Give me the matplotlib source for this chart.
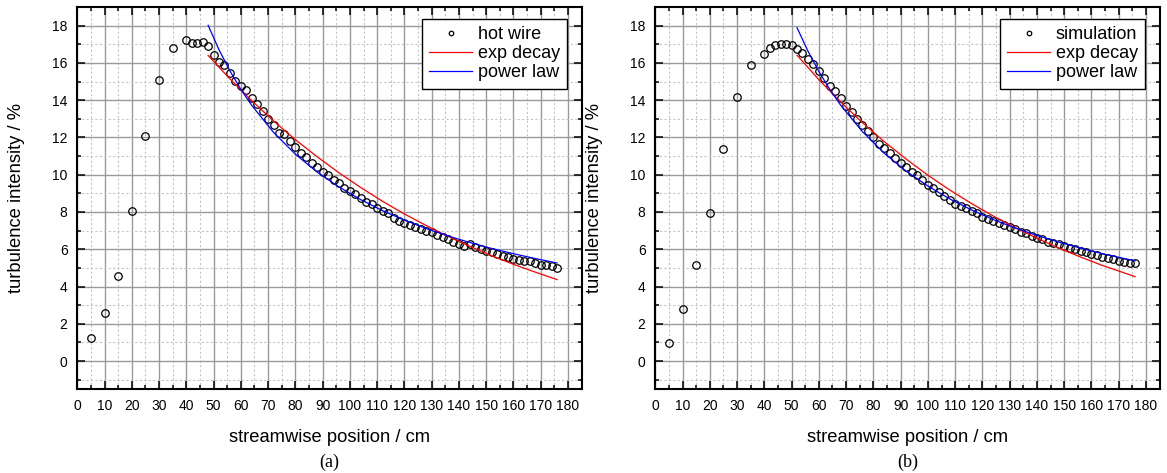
import matplotlib
matplotlib.use("Agg")
import matplotlib.pyplot as plt
from matplotlib.ticker import MultipleLocator

plt.rcParams['font.family'] = ['Liberation Sans', 'DejaVu Sans']

# (a) hot wire measurement
x_hw = [5, 10, 15, 20, 25, 30, 35,
        40, 42, 44, 46, 48, 50, 52, 54, 56, 58, 60, 62, 64, 66, 68, 70,
        72, 74, 76, 78, 80, 82, 84, 86, 88, 90, 92, 94, 96, 98, 100, 102,
        104, 106, 108, 110, 112, 114, 116, 118, 120, 122, 124, 126, 128, 130,
        132, 134, 136, 138, 140, 142, 144, 146, 148, 150, 152, 154, 156, 158,
        160, 162, 164, 166, 168, 170, 172, 174, 176]
y_hw = [1.25, 2.56, 4.55, 8.06, 12.06, 15.1, 16.82,
        17.21, 17.09, 17.09, 17.14, 16.89, 16.41, 16.03, 15.91, 15.46, 15.01,
        14.75, 14.53, 14.14, 13.82, 13.42, 12.98, 12.69, 12.24, 12.21, 11.83,
        11.49, 11.17, 10.95, 10.63, 10.42, 10.17, 10.01, 9.74, 9.56, 9.28,
        9.12, 8.94, 8.75, 8.55, 8.42, 8.24, 8.04, 7.92, 7.65, 7.52, 7.42,
        7.29, 7.2, 7.06, 6.97, 6.93, 6.76, 6.67, 6.54, 6.4, 6.27, 6.17, 6.26,
        6.1, 5.99, 5.92, 5.83, 5.77, 5.65, 5.56, 5.47, 5.42, 5.38, 5.36, 5.24,
        5.18, 5.13, 5.11, 5.0]

x_exp_a = [48, 56, 64, 72, 80, 88, 96, 104, 112, 120, 128, 136, 144, 152, 160, 168, 176]
y_exp_a = [16.4, 15.14, 13.97, 12.88, 11.88, 10.96, 10.1, 9.31, 8.57, 7.89,
           7.27, 6.69, 6.15, 5.65, 5.19, 4.77, 4.37]

x_pow_a = [48, 52, 56, 60, 64, 72, 80, 88, 96, 104, 112, 120, 128, 136, 144, 152, 160, 168, 176]
y_pow_a = [18.02, 16.7, 15.57, 14.58, 13.72, 12.27, 11.1, 10.14, 9.34, 8.66,
           8.07, 7.56, 7.11, 6.71, 6.36, 6.04, 5.76, 5.5, 5.26]

# (b) simulation
x_sim = [5, 10, 15, 20, 25, 30, 35,
         40, 42, 44, 46, 48, 50, 52, 54, 56, 58, 60, 62, 64, 66, 68, 70,
         72, 74, 76, 78, 80, 82, 84, 86, 88, 90, 92, 94, 96, 98, 100, 102,
         104, 106, 108, 110, 112, 114, 116, 118, 120, 122, 124, 126, 128, 130,
         132, 134, 136, 138, 140, 142, 144, 146, 148, 150, 152, 154, 156, 158,
         160, 162, 164, 166, 168, 170, 172, 174, 176]
y_sim = [0.97, 2.79, 5.15, 7.97, 11.4, 14.17, 15.91,
         16.5, 16.8, 16.94, 17.03, 17.03, 16.98, 16.77, 16.55, 16.23, 15.92,
         15.57, 15.21, 14.78, 14.49, 14.12, 13.69, 13.34, 12.98, 12.65, 12.33,
         12.0, 11.64, 11.42, 11.17, 10.87, 10.63, 10.42, 10.15, 9.97, 9.71,
         9.44, 9.26, 9.05, 8.85, 8.63, 8.45, 8.33, 8.24, 8.04, 7.92, 7.74,
         7.61, 7.52, 7.42, 7.29, 7.17, 7.06, 6.93, 6.85, 6.72, 6.63, 6.53, 6.4,
         6.31, 6.26, 6.17, 6.08, 6.01, 5.92, 5.86, 5.77, 5.68, 5.59, 5.51, 5.45,
         5.38, 5.32, 5.27, 5.24]

x_exp_b = [52, 60, 68, 76, 84, 92, 100, 108, 116, 124, 132, 140, 148, 156, 164, 172, 176]
y_exp_b = [16.41, 15.1, 13.9, 12.79, 11.77, 10.84, 9.97, 9.18, 8.45, 7.78,
           7.16, 6.59, 6.06, 5.58, 5.13, 4.73, 4.53]

x_pow_b = [52, 56, 60, 64, 68, 76, 84, 92, 100, 108, 116, 124, 132, 140, 148, 156, 164, 172, 176]
y_pow_b = [17.89, 16.63, 15.54, 14.58, 13.73, 12.31, 11.15, 10.19, 9.39, 8.7,
           8.11, 7.59, 7.14, 6.74, 6.38, 6.06, 5.76, 5.5, 5.38]

fig = plt.figure(figsize=(11.67, 4.73), dpi=100)
ax_a = fig.add_axes([0.0662, 0.1776, 0.4322, 0.8076])
ax_b = fig.add_axes([0.5615, 0.1776, 0.4322, 0.8076])

panels = [
    (ax_a, x_hw, y_hw, 'hot wire', x_exp_a, y_exp_a, x_pow_a, y_pow_a, '(a)'),
    (ax_b, x_sim, y_sim, 'simulation', x_exp_b, y_exp_b, x_pow_b, y_pow_b, '(b)'),
]

for ax, xd, yd, name, xe, ye, xp, yp, cap in panels:
    ax.plot(xd, yd, 'o', ms=5.4, mfc='none', mec='black', mew=0.9, label=name)
    ax.plot(xe, ye, '-', color='red', lw=0.9, label='exp decay')
    ax.plot(xp, yp, '-', color='blue', lw=0.9, label='power law')

    ax.set_xlim(0, 185)
    ax.set_ylim(-1.5, 19)
    ax.xaxis.set_major_locator(MultipleLocator(10))
    ax.xaxis.set_minor_locator(MultipleLocator(5))
    ax.yaxis.set_major_locator(MultipleLocator(2))
    ax.yaxis.set_minor_locator(MultipleLocator(1))

    ax.grid(True, which='major', color='#9a9a9a', lw=1.0)
    ax.grid(True, which='minor', color='#c4c4c4', lw=0.8, ls=(0, (2, 2)))
    ax.set_axisbelow(True)

    ax.tick_params(which='both', direction='in', top=True, right=True,
                   labelsize=10, width=1.1)
    ax.tick_params(which='major', length=5.5, pad=7)
    ax.tick_params(which='minor', length=3)
    for s in ax.spines.values():
        s.set_linewidth(1.5)

    ax.set_xlabel('streamwise position / cm', fontsize=13.2)
    ax.set_ylabel('turbulence intensity / %', fontsize=13.2)
    ax.xaxis.set_label_coords(0.5, -0.105)
    ax.yaxis.set_label_coords(-0.104, 0.5)

    leg = ax.legend(loc='upper right', bbox_to_anchor=(0.971, 0.969),
                    borderaxespad=0, fontsize=13, fancybox=False,
                    edgecolor='black', framealpha=1, handlelength=2.4,
                    handletextpad=0.3, labelspacing=0.12, borderpad=0.4,
                    markerscale=0.6)
    leg.get_frame().set_linewidth(1.0)

    pos = ax.get_position()
    fig.text(pos.x0 + pos.width / 2, 1 - 462 / 473, cap, ha='center', va='center',
             fontsize=13, family=['Liberation Serif', 'DejaVu Serif'])

fig.savefig('out.png', dpi=100)
